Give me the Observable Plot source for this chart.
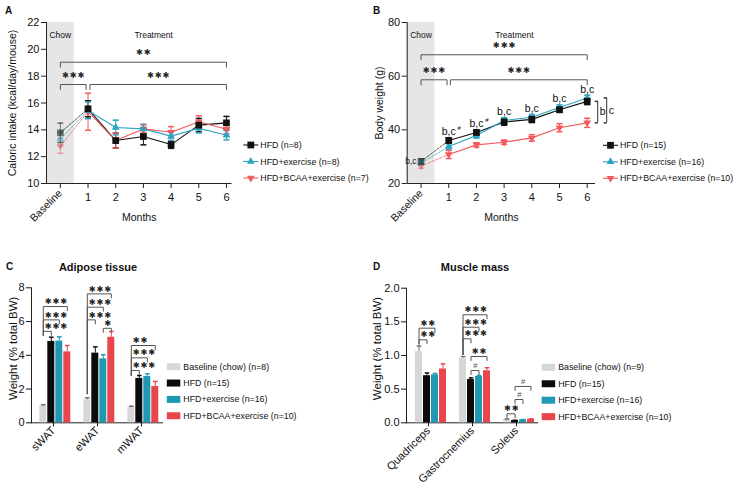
<!DOCTYPE html>
<html>
<head>
<meta charset="utf-8">
<script src="https://cdn.jsdelivr.net/npm/d3@7"></script>
<script src="https://cdn.jsdelivr.net/npm/@observablehq/plot@0.6"></script>
<style>
html,body{margin:0;padding:0;background:#fff;}
#root{position:relative;width:733px;height:487px;overflow:hidden;font-family:"Liberation Sans",Arial,sans-serif;color:#111;}
#root > svg{position:absolute;}
</style>
</head>
<body>
<div id="root"></div>
<script>
// ---------------- DATA ----------------
const monthLabels = ["Baseline", "1", "2", "3", "4", "5", "6"];
const lineSeries = ["HFD", "HFD+exercise", "HFD+BCAA+exercise"];
const intakeN = ["n=8", "n=8", "n=7"];
const weightN = ["n=15", "n=16", "n=10"];

// Panel A: caloric intake (kcal/day/mouse), mean and SEM
const intakeHFD = [13.78, 15.57, 13.2, 13.5, 12.9, 14.35, 14.52];
const intakeHFDErr = [0.72, 0.6, 0.55, 0.62, 0.28, 0.5, 0.48];
const intakeEx = [13.3, 15.45, 14.17, 14.07, 13.53, 14.12, 13.6];
const intakeExErr = [0.5, 0.62, 0.55, 0.35, 0.32, 0.35, 0.35];
const intakeBCAA = [12.8, 15.35, 13.2, 14.07, 13.82, 14.6, 14.05];
const intakeBCAAErr = [0.55, 1.38, 0.55, 0.3, 0.42, 0.45, 0.35];

// Panel B: body weight (g)
const weightHFD = [28.2, 36.0, 39.0, 42.9, 43.9, 47.5, 50.6];
const weightHFDErr = [1.0, 1.0, 1.0, 1.2, 1.2, 1.0, 1.2];
const weightEx = [27.6, 33.8, 37.9, 43.5, 44.7, 48.3, 51.9];
const weightExErr = [0.8, 1.0, 1.0, 1.0, 1.0, 1.0, 1.0];
const weightBCAA = [26.5, 30.8, 34.4, 35.4, 37.0, 40.8, 42.6];
const weightBCAAErr = [0.8, 1.5, 0.8, 0.8, 1.2, 1.5, 1.7];
const weightSigLabels = ["b,c", "b,c#", "b,c#", "b,c", "b,c", "b,c", "b,c"];

// phases shown on both time-course panels
const phases = [
  {label: "Chow", from: -0.5, to: 0.5, at: 0, shaded: true},
  {label: "Treatment", at: 3.37, shaded: false}
];

// significance brackets (months, value units)
const bracketsA = [
  {x1: 0, x2: 6, y: 19.04, label: "**"},
  {x1: 0, x2: 0.93, y: 17.38, label: "***"},
  {x1: 1.07, x2: 6, y: 17.38, label: "***"}
];
const bracketsB = [
  {x1: 0, x2: 6, y: 67.97, label: "***"},
  {x1: 0, x2: 0.94, y: 58.65, label: "***"},
  {x1: 1.06, x2: 6, y: 58.65, label: "***"}
];
const sideBracketsB = [
  {label: "b", upper: "HFD", lower: "HFD+BCAA+exercise"},
  {label: "c", upper: "HFD+exercise", lower: "HFD+BCAA+exercise"}
];

// Panels C, D: bar charts
const barGroups = ["Baseline (chow)", "HFD", "HFD+exercise", "HFD+BCAA+exercise"];
const adiposeN = ["n=8", "n=15", "n=16", "n=10"];
const muscleN = ["n=9", "n=15", "n=16", "n=10"];

const adiposeTissues = ["sWAT", "eWAT", "mWAT"];
const adiposeBaseline = [1.0, 1.36, 0.93];
const adiposeBaselineErr = [0.07, 0.12, 0.05];
const adiposeHFD = [4.82, 4.13, 2.63];
const adiposeHFDErr = [0.25, 0.37, 0.17];
const adiposeEx = [4.84, 3.79, 2.74];
const adiposeExErr = [0.25, 0.24, 0.16];
const adiposeBCAA = [4.2, 5.07, 2.15];
const adiposeBCAAErr = [0.38, 0.34, 0.3];

const muscles = ["Quadriceps", "Gastrocnemius", "Soleus"];
const muscleBaseline = [1.06, 0.96, 0.049];
const muscleBaselineErr = [0.08, 0.025, 0.008];
const muscleHFD = [0.70, 0.643, 0.034];
const muscleHFDErr = [0.04, 0.025, 0.004];
const muscleEx = [0.713, 0.688, 0.044];
const muscleExErr = [0.02, 0.015, 0.004];
const muscleBCAA = [0.80, 0.773, 0.052];
const muscleBCAAErr = [0.075, 0.045, 0.006];

const adiposeBrackets = [
  {facet: "sWAT", from: "Baseline (chow)", to: "HFD", y: 5.42, label: "***", anchor: "start", leftEnd: 5.18},
  {facet: "sWAT", from: "Baseline (chow)", to: "HFD+exercise", y: 6.1, label: "***", anchor: "start", leftEnd: 5.18},
  {facet: "sWAT", from: "Baseline (chow)", to: "HFD+BCAA+exercise", y: 6.89, label: "***", anchor: "start", leftEnd: 5.18},
  {facet: "eWAT", from: "Baseline (chow)", to: "HFD", y: 6.1, label: "***", anchor: "start", leftEnd: 1.72},
  {facet: "eWAT", from: "Baseline (chow)", to: "HFD+exercise", y: 6.85, label: "***", anchor: "start", leftEnd: 1.72},
  {facet: "eWAT", from: "Baseline (chow)", to: "HFD+BCAA+exercise", y: 7.64, label: "***", anchor: "start", leftEnd: 1.72},
  {facet: "eWAT", from: "HFD+exercise", to: "HFD+BCAA+exercise", y: 5.6, label: "*", anchor: "middle"},
  {facet: "mWAT", from: "Baseline (chow)", to: "HFD", y: 3.1, label: "***", anchor: "start", leftEnd: 2.8},
  {facet: "mWAT", from: "Baseline (chow)", to: "HFD+exercise", y: 3.85, label: "***", anchor: "start", leftEnd: 2.8},
  {facet: "mWAT", from: "Baseline (chow)", to: "HFD+BCAA+exercise", y: 4.58, label: "**", anchor: "start", leftEnd: 2.8}
];
const muscleBrackets = [
  {facet: "Quadriceps", from: "Baseline (chow)", to: "HFD", y: 1.233, label: "**", anchor: "start", leftEnd: 1.17},
  {facet: "Quadriceps", from: "Baseline (chow)", to: "HFD+exercise", y: 1.406, label: "**", anchor: "start", leftEnd: 1.17},
  {facet: "Gastrocnemius", from: "Baseline (chow)", to: "HFD", y: 1.248, label: "***", anchor: "start", leftEnd: 1.015},
  {facet: "Gastrocnemius", from: "Baseline (chow)", to: "HFD+exercise", y: 1.42, label: "***", anchor: "start", leftEnd: 1.015},
  {facet: "Gastrocnemius", from: "Baseline (chow)", to: "HFD+BCAA+exercise", y: 1.605, label: "***", anchor: "start", leftEnd: 1.015},
  {facet: "Gastrocnemius", from: "HFD", to: "HFD+BCAA+exercise", y: 0.985, label: "**", anchor: "middle"},
  {facet: "Gastrocnemius", from: "HFD", to: "HFD+exercise", y: 0.777, label: "#", anchor: "middle"},
  {facet: "Soleus", from: "Baseline (chow)", to: "HFD", y: 0.134, label: "**", anchor: "middle"},
  {facet: "Soleus", from: "HFD", to: "HFD+exercise", y: 0.346, label: "#", anchor: "middle"},
  {facet: "Soleus", from: "HFD", to: "HFD+BCAA+exercise", y: 0.54, label: "#", anchor: "middle"}
];

// ---------------- STYLE ----------------
const FONT = '"Liberation Sans", Arial, Helvetica, sans-serif';
const STAR_FONT = '"DejaVu Sans", sans-serif';
const lineColor = {"HFD": "#111111", "HFD+exercise": "#29a4c1", "HFD+BCAA+exercise": "#f25a5d"};
const barColor = {"Baseline (chow)": "#d7d7d7", "HFD": "#0b0b0b", "HFD+exercise": "#1f98b4", "HFD+BCAA+exercise": "#e9464b"};
const errColor = {"Baseline (chow)": "#6f6f6f", "HFD": "#111111", "HFD+exercise": "#1f98b4", "HFD+BCAA+exercise": "#e9464b"};
const AXIS = "#222";
const BRACKET = "#555";
const baseStyle = {fontFamily: FONT, fontSize: "11px", color: "#111", background: "transparent", overflow: "visible"};

const capSym = {draw(ctx, size) { const w = Math.sqrt(size) / 2; ctx.moveTo(-w, 0); ctx.lineTo(w, 0); }};
const leftCapSym = {draw(ctx, size) { const w = Math.sqrt(size); ctx.moveTo(-w, 0); ctx.lineTo(0, 0); }};
const stars = s => s.replace(/\*/g, "\u2731").split("").join("\u200A");

const root = document.getElementById("root");

function place(svg, left, top) {
  svg.style.left = left + "px";
  svg.style.top = top + "px";
  root.appendChild(svg);
}

// ---------------- LINE PANELS ----------------
function linePanel(cfg) {
  const {series, yDomain, yTicks, yLabel, brackets, legPx, width, height, mL, mR, mT, mB, xMax, yLabelDx, extraMarks} = cfg;
  const rows = series.flatMap(s => s.values.map((v, i) => ({series: s.name, month: i, value: v, err: s.errs[i]})));
  const leg = legPx * (yDomain[1] - yDomain[0]) / (height - mT - mB);
  const pts = brackets.flatMap((b, i) => [
    {id: i, x: b.x1, y: b.y - leg}, {id: i, x: b.x1, y: b.y},
    {id: i, x: b.x2, y: b.y}, {id: i, x: b.x2, y: b.y - leg}
  ]);
  const col = d => lineColor[d.series];
  const fade = d => d.month === 0 ? 0.55 : 1;
  const caps = rows.flatMap(d => [{...d, cap: d.value - d.err}, {...d, cap: d.value + d.err}]);
  const symbolFor = {"HFD": ["square", 3.8, 0], "HFD+exercise": ["triangle", 2.9, 0], "HFD+BCAA+exercise": ["triangle", 2.9, 180]};
  return Plot.plot({
    width, height, marginLeft: mL, marginRight: mR, marginTop: mT, marginBottom: mB,
    x: {domain: [-0.5, xMax], axis: null},
    y: {domain: yDomain, axis: null},
    style: baseStyle,
    marks: [
      Plot.rect(phases.filter(p => p.shaded), {x1: "from", x2: "to", fill: "#e6e6e6"}),
      Plot.text(phases, {x: "at", text: "label", frameAnchor: "top", dy: 9, fontSize: 8.5}),
      Plot.ruleX([-0.5], {stroke: AXIS}),
      Plot.ruleY([yDomain[0]], {stroke: AXIS}),
      Plot.axisY({ticks: yTicks, tickSize: 5, tickPadding: 2, label: null, stroke: AXIS}),
      Plot.axisX([0], {tickFormat: i => monthLabels[i], tickRotate: -45, tickSize: 5, tickPadding: 3, label: null, stroke: AXIS, fontSize: 10.5}),
      Plot.axisX(d3.range(1, monthLabels.length), {tickFormat: i => monthLabels[i], tickSize: 5, tickPadding: 5, label: null, stroke: AXIS}),
      Plot.text(["Months"], {text: d => d, frameAnchor: "bottom", dy: 37, fontSize: 10.5}),
      Plot.text([yLabel], {text: d => d, frameAnchor: "left", textAnchor: "middle", rotate: -90, dx: yLabelDx, fontSize: 10.5}),
      Plot.line(pts, {x: "x", y: "y", z: "id", stroke: BRACKET, strokeWidth: 1}),
      Plot.text(brackets, {x: d => (d.x1 + d.x2) / 2, y: "y", text: d => stars(d.label), dy: -9.5, fontSize: 8.3, fontFamily: STAR_FONT, fill: "#222"}),
      Plot.line(rows.filter(d => d.month <= 1), {x: "month", y: "value", z: "series", stroke: col, strokeDasharray: "2.5,1.5", strokeOpacity: 0.7, strokeWidth: 1}),
      Plot.line(rows.filter(d => d.month >= 1), {x: "month", y: "value", z: "series", stroke: col, strokeWidth: 1.1}),
      Plot.ruleX(rows, {x: "month", y1: d => d.value - d.err, y2: d => d.value + d.err, stroke: col, strokeOpacity: fade}),
      Plot.dot(caps, {x: "month", y: "cap", symbol: capSym, r: 3.4, stroke: col, strokeOpacity: fade, fill: "none"}),
      ...["HFD+BCAA+exercise", "HFD+exercise", "HFD"].map(name => Plot.dot(rows.filter(d => d.series === name), {
        x: "month", y: "value", symbol: symbolFor[name][0], r: symbolFor[name][1], rotate: symbolFor[name][2],
        fill: col, fillOpacity: fade, stroke: "none"
      })),
      ...(extraMarks || [])
    ]
  });
}

const intakeSeries = [
  {name: "HFD", values: intakeHFD, errs: intakeHFDErr},
  {name: "HFD+exercise", values: intakeEx, errs: intakeExErr},
  {name: "HFD+BCAA+exercise", values: intakeBCAA, errs: intakeBCAAErr}
];
const weightSeries = [
  {name: "HFD", values: weightHFD, errs: weightHFDErr},
  {name: "HFD+exercise", values: weightEx, errs: weightExErr},
  {name: "HFD+BCAA+exercise", values: weightBCAA, errs: weightBCAAErr}
];

const panelA = linePanel({
  series: intakeSeries, yDomain: [10, 22], yTicks: d3.range(10, 23, 2),
  yLabel: "Caloric intake (kcal/day/mouse)", brackets: bracketsA, legPx: 5,
  width: 365, height: 245, mL: 46, mR: 133.5, mT: 22, mB: 62, xMax: 6.2, yLabelDx: -34
});
place(panelA, 0, 0);

// B extra annotations
const wVal = (name, i) => weightSeries.find(s => s.name === name).values[i];
const lastM = monthLabels.length - 1;
const sigRows = weightSigLabels.map((label, i) => ({
  month: i, label,
  top: Math.max(weightHFD[i] + weightHFDErr[i], weightEx[i] + weightExErr[i]),
  val: weightHFD[i]
}));
const sideMarks = sideBracketsB.flatMap((b, k) => {
  const d = {x: lastM, y1: wVal(b.upper, lastM), y2: wVal(b.lower, lastM), label: b.label};
  const off = 10.5 + 9 * k;
  return [
    Plot.ruleX([d], {x: "x", y1: "y1", y2: "y2", dx: off, stroke: "#333"}),
    Plot.dot([{x: d.x, y: d.y1}, {x: d.x, y: d.y2}], {x: "x", y: "y", symbol: leftCapSym, r: 1.7, dx: off, stroke: "#333", fill: "none"}),
    Plot.text([d], {x: "x", y: v => (v.y1 + v.y2) / 2, text: "label", dx: off + 2, textAnchor: "start", fontSize: 10.5})
  ];
});
const extraB = [
  Plot.text(sigRows.filter(d => d.month > 0), {x: "month", y: "top", text: d => d.label.replace("#", ""), dy: -6, fontSize: 10.5}),
  Plot.text(sigRows.filter(d => d.month > 0 && d.label.includes("#")), {x: "month", y: "top", text: () => "#", dx: 10.5, dy: -9.5, fontSize: 6}),
  Plot.text(sigRows.filter(d => d.month === 0), {x: "month", y: "val", text: "label", textAnchor: "end", dx: -4.5, fontSize: 8.5}),
  ...sideMarks
];

const panelB = linePanel({
  series: weightSeries, yDomain: [20, 80], yTicks: [20, 40, 60, 80],
  yLabel: "Body weight (g)", brackets: bracketsB, legPx: 5,
  width: 368, height: 245, mL: 41.7, mR: 138, mT: 22, mB: 62, xMax: 6.3, yLabelDx: -28,
  extraMarks: extraB
});
place(panelB, 365, 0);

// ---------------- BAR PANELS ----------------
function barPanel(cfg) {
  const {facets, values, yDomain, yTicks, tickFormat, yLabel, brackets, legPx, width, height, mL, mR, mT, mB, yLabelDx, yLabelDy} = cfg;
  const rows = facets.flatMap((f, fi) => barGroups.map((g, gi) => ({facet: f, group: g, value: values[gi][0][fi], err: values[gi][1][fi]})));
  const leg = legPx * (yDomain[1] - yDomain[0]) / (height - mT - mB);
  const gIdx = g => barGroups.indexOf(g);
  const pts = brackets.flatMap((b, i) => [
    {id: i, facet: b.facet, x: b.from, y: b.leftEnd ?? b.y - leg},
    {id: i, facet: b.facet, x: b.from, y: b.y},
    {id: i, facet: b.facet, x: b.to, y: b.y},
    {id: i, facet: b.facet, x: b.to, y: b.y - leg}
  ]);
  const labels = brackets.map(b => {
    if (b.anchor === "start") return {...b, at: b.from, half: false};
    const m = (gIdx(b.from) + gIdx(b.to)) / 2;
    return {...b, at: barGroups[Math.floor(m)], half: !Number.isInteger(m)};
  });
  const isHash = d => d.label === "#";
  const starOpts = {fx: "facet", x: "at", y: "y", text: d => stars(d.label), dy: -5, fontSize: 8.3, fontFamily: STAR_FONT, fill: "#222"};
  const hashOpts = {fx: "facet", x: "at", y: "y", text: "label", dy: -4.8, fontSize: 8, fill: "#555", fontStyle: "italic"};
  return Plot.plot({
    width, height, marginLeft: mL, marginRight: mR, marginTop: mT, marginBottom: mB,
    fx: {domain: facets, padding: 0, axis: "bottom", label: null, tickRotate: -45, tickSize: 4, tickPadding: 2},
    x: {domain: barGroups, paddingInner: 0.094, paddingOuter: 0.635, align: 0.68, axis: null},
    y: {domain: yDomain, ticks: yTicks, tickFormat, tickSize: 5, tickPadding: 2, label: null},
    style: baseStyle,
    marks: [
      Plot.ruleY([yDomain[0]], {stroke: AXIS}),
      Plot.frame({anchor: "left", facet: "super", stroke: AXIS}),
      Plot.text([yLabel], {text: d => d, frameAnchor: "left", textAnchor: "middle", rotate: -90, dx: yLabelDx, dy: yLabelDy, fontSize: 11.5, facet: "super"}),
      Plot.barY(rows, {fx: "facet", x: "group", y: "value", fill: d => barColor[d.group]}),
      Plot.ruleX(rows, {fx: "facet", x: "group", y1: "value", y2: d => d.value + d.err, stroke: d => errColor[d.group]}),
      Plot.dot(rows, {fx: "facet", x: "group", y: d => d.value + d.err, symbol: capSym, r: 2.6, stroke: d => errColor[d.group], fill: "none"}),
      Plot.line(pts, {fx: "facet", x: "x", y: "y", z: "id", stroke: BRACKET, strokeWidth: 1}),
      Plot.text(labels.filter(d => !isHash(d) && d.anchor === "start"), {...starOpts, textAnchor: "start", dx: 1.5}),
      Plot.text(labels.filter(d => !isHash(d) && d.anchor !== "start" && !d.half), {...starOpts}),
      Plot.text(labels.filter(d => !isHash(d) && d.anchor !== "start" && d.half), {...starOpts, dx: 4.3}),
      Plot.text(labels.filter(d => isHash(d) && !d.half), {...hashOpts}),
      Plot.text(labels.filter(d => isHash(d) && d.half), {...hashOpts, dx: 4.3})
    ]
  });
}

const panelC = barPanel({
  facets: adiposeTissues,
  values: [[adiposeBaseline, adiposeBaselineErr], [adiposeHFD, adiposeHFDErr], [adiposeEx, adiposeExErr], [adiposeBCAA, adiposeBCAAErr]],
  yDomain: [0, 8], yTicks: [0, 2, 4, 6, 8], tickFormat: d3.format("d"),
  yLabel: "Weight (% total BW)", brackets: adiposeBrackets, legPx: 4,
  width: 365, height: 242, mL: 30.7, mR: 202, mT: 42.3, mB: 64.7, yLabelDx: -18.5, yLabelDy: -7
});
place(panelC, 0, 245);

const panelD = barPanel({
  facets: muscles,
  values: [[muscleBaseline, muscleBaselineErr], [muscleHFD, muscleHFDErr], [muscleEx, muscleExErr], [muscleBCAA, muscleBCAAErr]],
  yDomain: [0, 2], yTicks: [0, 0.5, 1, 1.5, 2], tickFormat: d3.format(".1f"),
  yLabel: "Weight (% total BW)", brackets: muscleBrackets, legPx: 4,
  width: 368, height: 242, mL: 41, mR: 195, mT: 42.7, mB: 64.7, yLabelDx: -28.7, yLabelDy: -7
});
place(panelD, 365, 245);

// ---------------- OVERLAY: letters, titles, legends ----------------
const ov = d3.select(root).append("svg")
  .attr("width", 733).attr("height", 487)
  .style("left", "0px").style("top", "0px").style("pointer-events", "none")
  .attr("font-family", FONT);

[["A", 5, 13.5], ["B", 373, 13.5], ["C", 6, 270], ["D", 373, 270]].forEach(([t, x, y]) =>
  ov.append("text").attr("x", x).attr("y", y).attr("font-size", 10).attr("font-weight", "bold").attr("fill", "#111").text(t));
[["Adipose tissue", 98, 270.5], ["Muscle mass", 475, 270.5]].forEach(([t, x, y]) =>
  ov.append("text").attr("x", x).attr("y", y).attr("font-size", 11).attr("font-weight", "bold").attr("text-anchor", "middle").attr("fill", "#111").text(t));

const legendSym = {"HFD": [d3.symbolSquare, 46, 0], "HFD+exercise": [d3.symbolTriangle, 26, 0], "HFD+BCAA+exercise": [d3.symbolTriangle, 26, 180]};
function lineLegend(x0, y0, dy, ns) {
  lineSeries.forEach((name, i) => {
    const y = y0 + i * dy;
    const [type, size, rot] = legendSym[name];
    ov.append("line").attr("x1", x0).attr("x2", x0 + 15).attr("y1", y).attr("y2", y).attr("stroke", lineColor[name]).attr("stroke-width", 1.1);
    ov.append("path").attr("d", d3.symbol(type, size)()).attr("transform", `translate(${x0 + 7.5},${y}) rotate(${rot})`).attr("fill", lineColor[name]);
    ov.append("text").attr("x", x0 + 17).attr("y", y).attr("dy", "0.35em").attr("font-size", 8.8).attr("fill", "#111").text(`${name} (${ns[i]})`);
  });
}
lineLegend(243.3, 145, 16.5, intakeN);
lineLegend(603, 145.3, 16.5, weightN);

function barLegend(x0, y0, dy, ns) {
  barGroups.forEach((name, i) => {
    const y = y0 + i * dy;
    ov.append("rect").attr("x", x0).attr("y", y - 3.5).attr("width", 13.5).attr("height", 7).attr("fill", barColor[name]);
    ov.append("text").attr("x", x0 + 16.5).attr("y", y).attr("dy", "0.35em").attr("font-size", 8.8).attr("fill", "#111").text(`${name} (${ns[i]})`);
  });
}
barLegend(166.8, 366.7, 16.35, adiposeN);
barLegend(541.7, 367.3, 16.45, muscleN);
</script>
</body>
</html>
